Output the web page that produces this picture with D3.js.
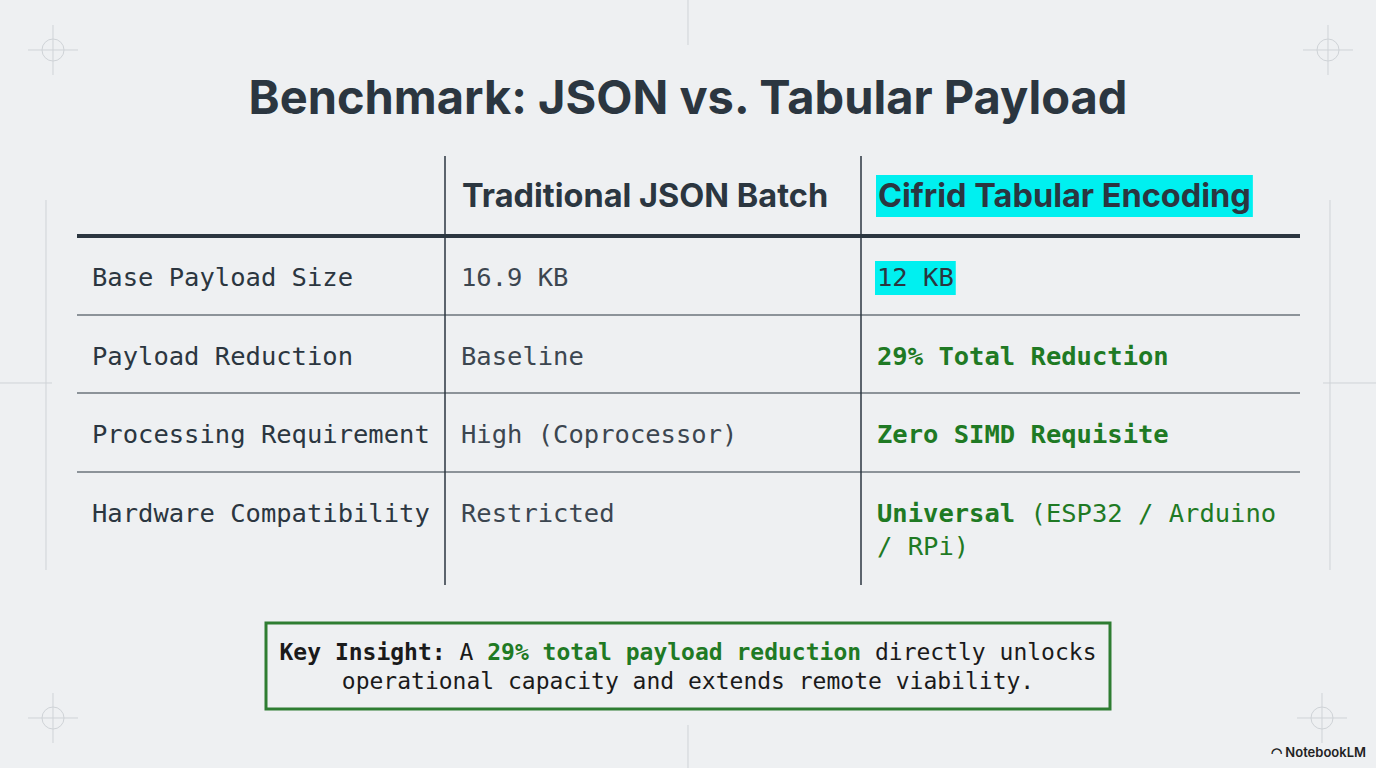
<!DOCTYPE html>
<html>
<head>
<meta charset="utf-8">
<script src="https://cdn.jsdelivr.net/npm/d3@7"></script>
<style>
  body { margin: 0; background: #eef0f2; }
  svg { display: block; }
</style>
</head>
<body>
<script>
var title = "Benchmark: JSON vs. Tabular Payload";
var headers = ["", "Traditional JSON Batch", "Cifrid Tabular Encoding"];
var rowLabels = ["Base Payload Size", "Payload Reduction", "Processing Requirement", "Hardware Compatibility"];
var jsonValues = ["16.9 KB", "Baseline", "High (Coprocessor)", "Restricted"];
var cifridValues = [
  [{t: "12 KB", b: false, hl: true}],
  [{t: "29% Total Reduction", b: true}],
  [{t: "Zero SIMD Requisite", b: true}],
  [{t: "Universal", b: true}, {t: " (ESP32 / Arduino", b: false}, {br: true}, {t: "/ RPi)", b: false}]
];
var rowHeights = [79, 78, 79, 113];

var w = 1376, h = 768;
var mono = "'DejaVu Sans Mono', monospace";
var sans = "Inter, 'Noto Sans', sans-serif";
var dark = "#2b3640";
var green = "#1f7a24";

var svg = d3.select("body").append("svg").attr("width", w).attr("height", h);
svg.append("rect").attr("width", w).attr("height", h).attr("fill", "#eef0f2");

// corner marks and guide lines
var deco = svg.append("g").attr("stroke", "#cfd3d7").attr("stroke-width", 1).attr("fill", "none");
[[53, 50], [1328, 50], [53, 718], [1322, 718]].forEach(function(p) {
  deco.append("circle").attr("cx", p[0]).attr("cy", p[1]).attr("r", 11);
  deco.append("line").attr("x1", p[0] - 25).attr("x2", p[0] + 25).attr("y1", p[1]).attr("y2", p[1]);
  deco.append("line").attr("x1", p[0]).attr("x2", p[0]).attr("y1", p[1] - 25).attr("y2", p[1] + 25);
});
[[688, 0, 688, 45], [688, 725, 688, 768], [46, 200, 46, 570], [1330, 200, 1330, 570],
 [0, 383, 52, 383], [1323, 383, 1376, 383]].forEach(function(l) {
  deco.append("line").attr("x1", l[0]).attr("y1", l[1]).attr("x2", l[2]).attr("y2", l[3]);
});

svg.append("text").attr("x", 688).attr("y", 114).attr("text-anchor", "middle")
  .attr("font-family", sans).attr("font-weight", 700).attr("font-size", 47)
  .attr("fill", dark).text(title);

// table
var colX = [77, 445, 861, 1300];
var headerBottom = 236;
var bounds = [headerBottom];
rowHeights.forEach(function(rh, i) { bounds.push(bounds[i] + rh); });

svg.append("g").selectAll("line").data([1, 2]).join("line")
  .attr("x1", function(d) { return colX[d]; }).attr("x2", function(d) { return colX[d]; })
  .attr("y1", 156).attr("y2", bounds[bounds.length - 1])
  .attr("stroke", dark).attr("stroke-width", 1.5);

svg.append("line").attr("x1", colX[0]).attr("x2", colX[3]).attr("y1", headerBottom).attr("y2", headerBottom)
  .attr("stroke", dark).attr("stroke-width", 4);
svg.append("g").selectAll("line").data(bounds.slice(1, bounds.length - 1)).join("line")
  .attr("x1", colX[0]).attr("x2", colX[3]).attr("y1", function(d) { return d; }).attr("y2", function(d) { return d; })
  .attr("stroke", dark).attr("stroke-width", 1.2);

// header
var hl = svg.append("g");
headers.forEach(function(t, i) {
  if (!t) return;
  var tx = svg.append("text").attr("x", colX[i] + 17).attr("y", 207)
    .attr("font-family", sans).attr("font-weight", 700).attr("font-size", 32.5)
    .attr("fill", dark).text(t);
  if (i === 2) {
    var bb = tx.node().getBBox();
    hl.append("rect").attr("x", bb.x - 2).attr("y", 175).attr("width", bb.width + 4).attr("height", 42).attr("fill", "#00f0f0");
  }
});

rowLabels.forEach(function(lab, i) {
  var ty = bounds[i] + 50;
  svg.append("text").attr("x", colX[0] + 15).attr("y", ty).attr("font-family", mono)
    .attr("font-size", 25.5).attr("fill", dark).text(lab);
  svg.append("text").attr("x", colX[1] + 16).attr("y", ty).attr("font-family", mono)
    .attr("font-size", 25.5).attr("fill", "#3c4650").text(jsonValues[i]);
  var t = svg.append("text").attr("x", colX[2] + 16).attr("y", ty).attr("font-family", mono)
    .attr("font-size", 25.5);
  var line = 0, first = true;
  cifridValues[i].forEach(function(s) {
    if (s.br) { line++; first = true; return; }
    var sp = t.append("tspan").attr("font-weight", s.b ? 700 : 400)
      .attr("fill", s.hl ? dark : green).text(s.t);
    if (first && line > 0) sp.attr("x", colX[2] + 16).attr("dy", 33);
    first = false;
    if (s.hl) {
      var bb = t.node().getBBox();
      svg.insert("rect", "text").attr("x", bb.x - 2).attr("y", ty - 25).attr("width", bb.width + 4)
        .attr("height", 34).attr("fill", "#00f0f0");
    }
  });
});

// insight box
svg.append("rect").attr("x", 266).attr("y", 623).attr("width", 844).attr("height", 86)
  .attr("fill", "#eef0f2").attr("stroke", "#2e7d32").attr("stroke-width", 3);
var ins = svg.append("text").attr("x", 688).attr("y", 660).attr("text-anchor", "middle")
  .attr("font-family", mono).attr("font-size", 23).attr("fill", "#1a1a1a");
ins.append("tspan").attr("font-weight", 700).text("Key Insight:");
ins.append("tspan").text(" A ");
ins.append("tspan").attr("font-weight", 700).attr("fill", green).text("29% total payload reduction");
ins.append("tspan").text(" directly unlocks");
svg.append("text").attr("x", 688).attr("y", 689).attr("text-anchor", "middle")
  .attr("font-family", mono).attr("font-size", 23).attr("fill", "#1a1a1a")
  .text("operational capacity and extends remote viability.");

svg.append("text").attr("x", 1366).attr("y", 757).attr("text-anchor", "end")
  .attr("font-family", sans).attr("font-weight", 600).attr("font-size", 13).attr("fill", "#222")
  .text("◠ NotebookLM");
</script>
</body>
</html>
